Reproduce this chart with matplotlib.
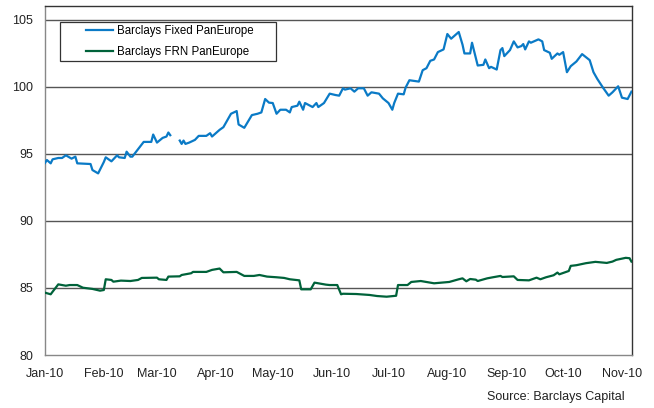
import numpy as np
import pandas as pd
import matplotlib
matplotlib.use("Agg")
import matplotlib.pyplot as plt
import matplotlib.dates as mdates
from matplotlib.patches import Rectangle

plt.rcParams['font.family'] = ['Liberation Sans', 'DejaVu Sans']

fixed_dates = [
    "2010-01-01", "2010-01-02", "2010-01-04", "2010-01-05", "2010-01-08", "2010-01-10",
    "2010-01-12", "2010-01-15", "2010-01-17", "2010-01-18", "2010-01-25", "2010-01-26",
    "2010-01-29", "2010-02-01", "2010-02-02", "2010-02-05", "2010-02-08", "2010-02-09",
    "2010-02-12", "2010-02-13", "2010-02-15", "2010-02-16", "2010-02-19", "2010-02-22",
    "2010-02-26", "2010-02-27", "2010-03-01", "2010-03-04", "2010-03-06", "2010-03-07",
    "2010-03-08", "2010-03-10", "2010-03-13", "2010-03-14", "2010-03-15", "2010-03-16",
    "2010-03-18", "2010-03-21", "2010-03-23", "2010-03-27", "2010-03-29", "2010-03-30",
    "2010-04-03", "2010-04-05", "2010-04-09", "2010-04-12", "2010-04-13", "2010-04-16",
    "2010-04-20", "2010-04-23", "2010-04-25", "2010-04-27", "2010-04-29", "2010-05-01",
    "2010-05-03", "2010-05-05", "2010-05-08", "2010-05-10", "2010-05-11", "2010-05-14",
    "2010-05-15", "2010-05-17", "2010-05-18", "2010-05-22", "2010-05-24", "2010-05-25",
    "2010-05-28", "2010-05-31", "2010-06-03", "2010-06-05", "2010-06-07", "2010-06-08",
    "2010-06-11", "2010-06-13", "2010-06-15", "2010-06-18", "2010-06-20", "2010-06-22",
    "2010-06-26", "2010-06-28", "2010-07-01", "2010-07-03", "2010-07-04", "2010-07-06",
    "2010-07-09", "2010-07-10", "2010-07-12", "2010-07-17", "2010-07-19", "2010-07-21",
    "2010-07-23", "2010-07-25", "2010-07-27", "2010-07-30", "2010-08-01", "2010-08-03",
    "2010-08-07", "2010-08-09", "2010-08-10", "2010-08-13", "2010-08-14", "2010-08-17",
    "2010-08-20", "2010-08-21", "2010-08-23", "2010-08-24", "2010-08-27", "2010-08-29",
    "2010-08-30", "2010-08-31", "2010-09-03", "2010-09-05", "2010-09-07", "2010-09-09",
    "2010-09-10", "2010-09-11", "2010-09-13", "2010-09-14", "2010-09-18", "2010-09-20",
    "2010-09-21", "2010-09-24", "2010-09-25", "2010-09-28", "2010-09-29", "2010-10-01",
    "2010-10-03", "2010-10-05", "2010-10-08", "2010-10-11", "2010-10-15", "2010-10-17",
    "2010-10-19", "2010-10-22", "2010-10-25", "2010-10-27", "2010-10-30", "2010-11-01",
    "2010-11-04", "2010-11-06",
]
fixed_values = [
    94.33, 94.55, 94.30, 94.60, 94.70, 94.70,
    94.90, 94.65, 94.80, 94.30, 94.25, 93.80,
    93.55, 94.40, 94.75, 94.45, 94.90, 94.75,
    94.70, 95.17, 94.80, 94.80, 95.35, 95.90,
    95.90, 96.45, 95.85, 96.20, 96.30, 96.60,
    96.40, np.nan, 96.00, 95.75, 96.00, 95.75,
    95.85, 96.05, 96.35, 96.35, 96.55, 96.30,
    96.80, 97.00, 98.00, 98.20, 97.20, 96.95,
    97.90, 98.00, 98.10, 99.10, 98.83, 98.80,
    98.00, 98.30, 98.30, 98.10, 98.50, 98.60,
    98.90, 98.30, 98.80, 98.50, 98.80, 98.50,
    98.80, 99.50, 99.40, 99.35, 99.90, 99.80,
    99.90, 99.65, 99.90, 99.90, 99.35, 99.60,
    99.50, 99.15, 98.80, 98.30, 98.80, 99.50,
    99.45, 99.95, 100.50, 100.40, 101.25, 101.40,
    101.95, 102.05, 102.60, 102.80, 103.95, 103.60,
    104.10, 103.15, 102.50, 102.50, 103.30, 101.60,
    101.65, 102.05, 101.40, 101.50, 101.30, 102.75,
    102.90, 102.30, 102.75, 103.40, 102.95, 103.05,
    103.20, 102.80, 103.40, 103.30, 103.55, 103.40,
    102.75, 102.55, 102.10, 102.50, 102.40, 102.60,
    101.10, 101.55, 101.90, 102.45, 102.00, 101.10,
    100.60, 99.95, 99.35, 99.60, 100.05, 99.20,
    99.10, 99.65,
]

frn_dates = [
    "2010-01-01", "2010-01-04", "2010-01-05", "2010-01-08", "2010-01-12", "2010-01-14",
    "2010-01-18", "2010-01-21", "2010-01-26", "2010-01-30", "2010-02-01", "2010-02-02",
    "2010-02-05", "2010-02-06", "2010-02-10", "2010-02-15", "2010-02-19", "2010-02-21",
    "2010-03-01", "2010-03-02", "2010-03-06", "2010-03-07", "2010-03-13", "2010-03-14",
    "2010-03-19", "2010-03-20", "2010-03-27", "2010-03-30", "2010-04-03", "2010-04-05",
    "2010-04-12", "2010-04-16", "2010-04-21", "2010-04-24", "2010-04-28", "2010-05-03",
    "2010-05-07", "2010-05-10", "2010-05-15", "2010-05-16", "2010-05-21", "2010-05-23",
    "2010-05-29", "2010-05-31", "2010-06-04", "2010-06-06", "2010-06-07", "2010-06-14",
    "2010-06-21", "2010-06-25", "2010-06-30", "2010-07-05", "2010-07-06", "2010-07-11",
    "2010-07-13", "2010-07-18", "2010-07-25", "2010-08-02", "2010-08-07", "2010-08-09",
    "2010-08-11", "2010-08-13", "2010-08-16", "2010-08-17", "2010-08-22", "2010-08-25",
    "2010-08-29", "2010-08-30", "2010-09-05", "2010-09-07", "2010-09-13", "2010-09-17",
    "2010-09-19", "2010-09-22", "2010-09-26", "2010-09-28", "2010-09-29", "2010-10-04",
    "2010-10-05", "2010-10-08", "2010-10-13", "2010-10-18", "2010-10-24", "2010-10-27",
    "2010-10-29", "2010-11-03", "2010-11-05", "2010-11-06",
]
frn_values = [
    84.65, 84.53, 84.72, 85.27, 85.17, 85.22,
    85.22, 85.02, 84.93, 84.80, 84.85, 85.65,
    85.60, 85.47, 85.55, 85.52, 85.60, 85.75,
    85.77, 85.65, 85.60, 85.85, 85.87, 85.97,
    86.10, 86.20, 86.20, 86.35, 86.45, 86.17,
    86.20, 85.90, 85.90, 85.97, 85.85, 85.80,
    85.75, 85.65, 85.57, 84.90, 84.90, 85.40,
    85.25, 85.22, 85.22, 84.53, 84.57, 84.55,
    84.48, 84.40, 84.35, 84.42, 85.22, 85.22,
    85.45, 85.52, 85.35, 85.45, 85.65, 85.72,
    85.50, 85.67, 85.62, 85.52, 85.72, 85.80,
    85.90, 85.82, 85.87, 85.60, 85.57, 85.77,
    85.65, 85.80, 85.95, 86.15, 86.02, 86.27,
    86.65, 86.70, 86.85, 86.95, 86.87, 86.97,
    87.10, 87.25, 87.22, 86.97,
]

series_labels = ["Barclays Fixed PanEurope", "Barclays FRN PanEurope"]
y_ticks = [80, 85, 90, 95, 100, 105]
source_text = "Source: Barclays Capital"

fig = plt.figure(figsize=(6.54, 4.08), dpi=100)
ax = fig.add_axes([45/654, 1-355/408, (632-45)/654, (355-6)/408])

fx = pd.to_datetime(fixed_dates)
gx = pd.to_datetime(frn_dates)

for y in [85, 90, 95, 100, 105]:
    ax.axhline(y, color='#555555', lw=1.0, zorder=1)

l1, = ax.plot(fx, fixed_values, color='#0a7ac6', lw=1.6, zorder=3, label=series_labels[0])
l2, = ax.plot(gx, frn_values, color='#00623a', lw=1.6, zorder=3, label=series_labels[1])

ax.set_ylim(80, 106.04)
ax.set_xlim(pd.Timestamp("2010-01-01"), pd.Timestamp("2010-11-06 07:00"))
ax.set_yticks(y_ticks)
ax.xaxis.set_major_locator(mdates.MonthLocator())
ax.xaxis.set_major_formatter(mdates.DateFormatter('%b-%y'))
ax.tick_params(axis='both', length=0, labelsize=9, colors='#222222')
ax.tick_params(axis='y', pad=8.5)
ax.tick_params(axis='x', pad=9.5)

for side in ['left', 'bottom']:
    ax.spines[side].set_color('#888888')
    ax.spines[side].set_linewidth(1.0)
for side in ['right', 'top']:
    ax.spines[side].set_color('#333333')
    ax.spines[side].set_linewidth(1.0)

# legend box
x0 = (60-45)/587; x1 = (276-45)/587
y_top = 1 - (22-6)/349; y_bot = 1 - (61-6)/349
ax.add_patch(Rectangle((x0, y_bot), x1-x0, y_top-y_bot, transform=ax.transAxes,
                       fill=True, facecolor='white', edgecolor='#333333', lw=0.9, zorder=4))
leg = ax.legend(handles=[l1, l2], loc='center left',
                bbox_to_anchor=((86-45)/587, 1 - (41.5-6)/349),
                frameon=False, fontsize=8.3, handlelength=2.3, handletextpad=0.35,
                labelspacing=0.7, borderaxespad=0.0, borderpad=0.0)
leg.set_zorder(5)

fig.text(625/654, 1-397/408, source_text, ha='right', va='center', fontsize=9, color='#222222')

fig.savefig("out.png", dpi=100)
